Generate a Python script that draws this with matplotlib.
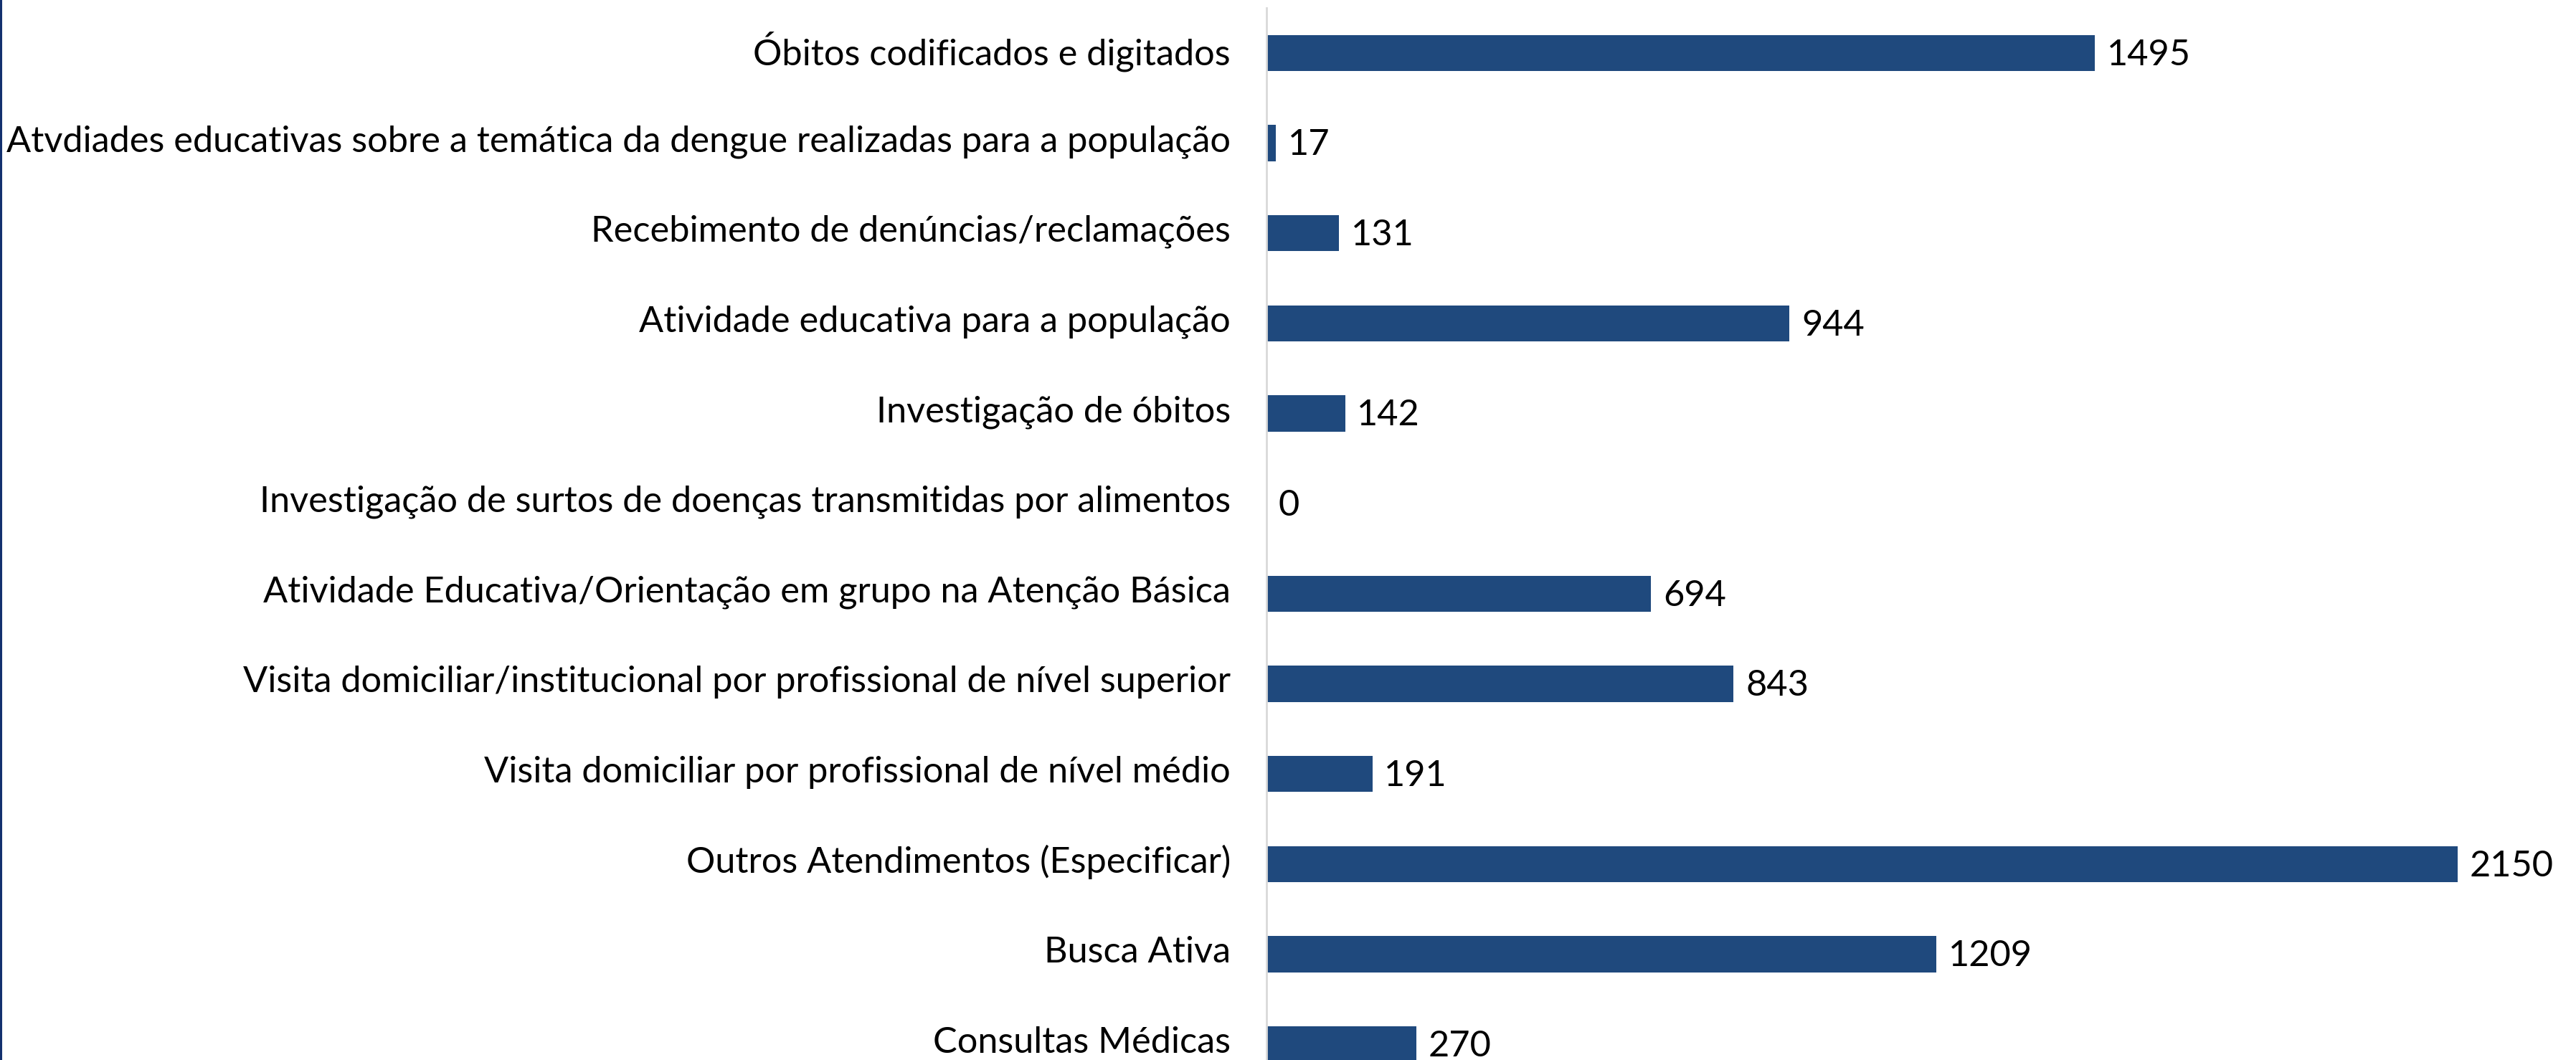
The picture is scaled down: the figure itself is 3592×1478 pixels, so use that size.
import matplotlib
matplotlib.use("Agg")
import matplotlib.pyplot as plt
from matplotlib.transforms import ScaledTranslation

categorias = [
    "Óbitos codificados e digitados",
    "Atvdiades educativas sobre a temática da dengue realizadas para a população",
    "Recebimento de denúncias/reclamações",
    "Atividade educativa para a população",
    "Investigação de óbitos",
    "Investigação de surtos de doenças transmitidas por alimentos",
    "Atividade Educativa/Orientação em grupo na Atenção Básica",
    "Visita domiciliar/institucional por profissional de nível superior",
    "Visita domiciliar por profissional de nível médio",
    "Outros Atendimentos (Especificar)",
    "Busca Ativa",
    "Consultas Médicas",
]
valores = [1495, 17, 131, 944, 142, 0, 694, 843, 191, 2150, 1209, 270]

cor_barra = "#1F497D"
plt.rcParams["font.family"] = ["Lato", "DejaVu Sans"]
fs = 36.4

W, H = 3592, 1478
fig = plt.figure(figsize=(W / 100, H / 100), dpi=100)
# eixo vai além da borda inferior (gráfico cortado)
ax = fig.add_axes([1766 / W, -41 / H, 1 - 1766 / W, (1519 - 11) / H])

y = list(range(len(categorias)))
ax.barh(y, valores, height=0.4, color=cor_barra)
ax.set_ylim(len(categorias) - 0.5, -0.5)
ax.set_xlim(0, 2363)

for yi, v in zip(y, valores):
    ax.annotate(str(v), (v, yi), xytext=(12, -2), textcoords="offset points",
                va="center", ha="left", fontsize=fs, color="black")

ax.set_yticks(y)
ax.set_yticklabels(categorias, fontsize=fs)
ax.tick_params(axis="y", length=0, pad=36)
# sobe um pouco os rótulos
desloc = ScaledTranslation(0, 5 / 72, fig.dpi_scale_trans)
for lab in ax.get_yticklabels():
    lab.set_transform(lab.get_transform() + desloc)
ax.set_xticks([])
for s in ["top", "right", "bottom"]:
    ax.spines[s].set_visible(False)
ax.spines["left"].set_color("#d9d9d9")
ax.spines["left"].set_linewidth(2)

# linha azul na borda esquerda
fig.add_artist(plt.Line2D([1 / W, 1 / W], [0, 1], color="#12306e", linewidth=2.2))

fig.savefig("out.png", dpi=100, facecolor="white")
